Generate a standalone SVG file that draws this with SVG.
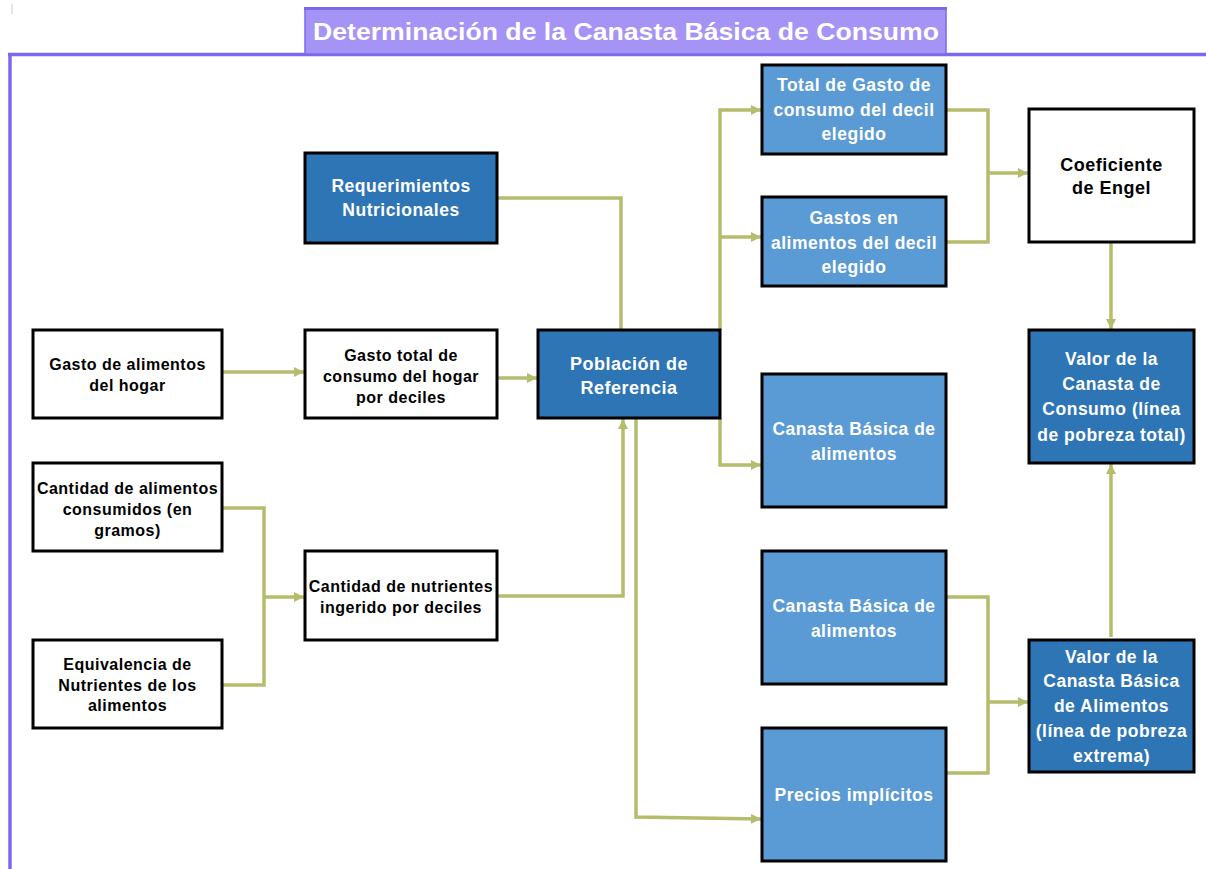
<svg xmlns="http://www.w3.org/2000/svg" width="1206" height="869" viewBox="0 0 1206 869">
<style>
.box{stroke:#000;stroke-width:3}
.dark{fill:#2E75B6}
.light{fill:#5B9BD5}
.white{fill:#FFFFFF}
text{font-family:"Liberation Sans",Arial,sans-serif;font-weight:bold;text-anchor:middle}
.tw{fill:#FFFFFF;font-size:17.5px;letter-spacing:0.5px}
.tb{fill:#000000;font-size:16px;letter-spacing:0.5px}
.tb18{fill:#000000;font-size:18px;letter-spacing:0.5px}
.conn{fill:none;stroke:#B5BD6C;stroke-width:3.5}
</style>
<defs>
<marker id="arr" markerUnits="userSpaceOnUse" markerWidth="11" markerHeight="11" refX="10" refY="5" orient="auto">
<path d="M0,0 L10,5 L0,10 z" fill="#B5BD6C"/>
</marker>
</defs>
<rect x="0" y="0" width="1206" height="869" fill="#FFFFFF"/>
<line x1="12" y1="4" x2="12" y2="14" stroke="#CCCCCC" stroke-width="1"/>

<g id="frame">
<line x1="8" y1="54.5" x2="1206" y2="54.5" stroke="#7B68EE" stroke-width="3.5"/>
<line x1="10" y1="54" x2="10" y2="869" stroke="#7B68EE" stroke-width="3.5"/>
</g>
<g id="title">
<rect x="305" y="9" width="641" height="45" fill="#A594F5" stroke="#7B68EE" stroke-width="1.5"/>
<line x1="304" y1="8.5" x2="947" y2="8.5" stroke="#7B68EE" stroke-width="3"/>
<text x="626" y="40" fill="#FFFFFF" style="font-size:24px" textLength="626" lengthAdjust="spacingAndGlyphs">Determinación de la Canasta Básica de Consumo</text>
</g>

<g id="connectors">
<path class="conn" d="M222,372 H304" marker-end="url(#arr)"/>
<path class="conn" d="M497,378 H537" marker-end="url(#arr)"/>
<path class="conn" d="M222,508 H264 V685 H222"/>
<path class="conn" d="M264,597 H304" marker-end="url(#arr)"/>
<path class="conn" d="M497,596 H623 V419" marker-end="url(#arr)"/>
<path class="conn" d="M497,198 H621 V330"/>
<path class="conn" d="M720,330 V110 H761" marker-end="url(#arr)"/>
<path class="conn" d="M720,237 H761" marker-end="url(#arr)"/>
<path class="conn" d="M720,418 V465 H761" marker-end="url(#arr)"/>
<path class="conn" d="M636,418 V817 L761,819" marker-end="url(#arr)"/>
<path class="conn" d="M946,110 H988 V242 H946"/>
<path class="conn" d="M988,173 H1028" marker-end="url(#arr)"/>
<path class="conn" d="M1111,242 V329" marker-end="url(#arr)"/>
<path class="conn" d="M946,597 H988 V773 H946"/>
<path class="conn" d="M988,702 H1028" marker-end="url(#arr)"/>
<path class="conn" d="M1111,637 V464" marker-end="url(#arr)"/>
</g>

<g id="requerimientos">
<rect class="box dark" x="305" y="153" width="192" height="90"/>
<text class="tw" x="401" y="192">Requerimientos</text>
<text class="tw" x="401" y="216">Nutricionales</text>
</g>
<g id="gasto-alimentos-hogar">
<rect class="box white" x="33" y="330" width="189" height="88"/>
<text class="tb" x="127.5" y="369.5">Gasto de alimentos</text>
<text class="tb" x="127.5" y="390.5">del hogar</text>
</g>
<g id="gasto-total-consumo">
<rect class="box white" x="305" y="330" width="192" height="88"/>
<text class="tb" x="401" y="360.5">Gasto total de</text>
<text class="tb" x="401" y="381.5">consumo del hogar</text>
<text class="tb" x="401" y="402.5">por deciles</text>
</g>
<g id="cantidad-alimentos">
<rect class="box white" x="33" y="463" width="189" height="88"/>
<text class="tb" x="127.5" y="493.5">Cantidad de alimentos</text>
<text class="tb" x="127.5" y="514.5">consumidos (en</text>
<text class="tb" x="127.5" y="535.5">gramos)</text>
</g>
<g id="equivalencia">
<rect class="box white" x="33" y="640" width="189" height="88"/>
<text class="tb" x="127.5" y="669.5">Equivalencia de</text>
<text class="tb" x="127.5" y="690.5">Nutrientes de los</text>
<text class="tb" x="127.5" y="710.5">alimentos</text>
</g>
<g id="cantidad-nutrientes">
<rect class="box white" x="305" y="551" width="192" height="89"/>
<text class="tb" x="401" y="591.5">Cantidad de nutrientes</text>
<text class="tb" x="401" y="612.5">ingerido por deciles</text>
</g>
<g id="poblacion">
<rect class="box dark" x="538" y="330" width="182" height="88"/>
<text class="tw" x="629" y="369.5" style="font-size:18px">Población de</text>
<text class="tw" x="629" y="393.5" style="font-size:18px">Referencia</text>
</g>
<g id="total-gasto-decil">
<rect class="box light" x="762" y="65" width="184" height="89"/>
<text class="tw" x="854" y="91">Total de Gasto de</text>
<text class="tw" x="854" y="115.5">consumo del decil</text>
<text class="tw" x="854" y="140">elegido</text>
</g>
<g id="gastos-alimentos-decil">
<rect class="box light" x="762" y="197" width="184" height="89"/>
<text class="tw" x="854" y="224">Gastos en</text>
<text class="tw" x="854" y="248.5">alimentos del decil</text>
<text class="tw" x="854" y="273">elegido</text>
</g>
<g id="canasta-basica-1">
<rect class="box light" x="762" y="374" width="184" height="133"/>
<text class="tw" x="854" y="435">Canasta Básica de</text>
<text class="tw" x="854" y="459.5">alimentos</text>
</g>
<g id="canasta-basica-2">
<rect class="box light" x="762" y="551" width="184" height="133"/>
<text class="tw" x="854" y="612">Canasta Básica de</text>
<text class="tw" x="854" y="636.5">alimentos</text>
</g>
<g id="precios-implicitos">
<rect class="box light" x="762" y="728" width="184" height="133"/>
<text class="tw" x="854" y="801">Precios implícitos</text>
</g>
<g id="coeficiente-engel">
<rect class="box white" x="1029" y="109" width="165" height="133"/>
<text class="tb18" x="1111.5" y="170.5">Coeficiente</text>
<text class="tb18" x="1111.5" y="193.5">de Engel</text>
</g>
<g id="valor-canasta-consumo">
<rect class="box dark" x="1029" y="330" width="165" height="133"/>
<text class="tw" x="1111.5" y="364.5">Valor de la</text>
<text class="tw" x="1111.5" y="389.5">Canasta de</text>
<text class="tw" x="1111.5" y="414.5">Consumo (línea</text>
<text class="tw" x="1111.5" y="440.5">de pobreza total)</text>
</g>
<g id="valor-canasta-alimentos">
<rect class="box dark" x="1029" y="640" width="165" height="132"/>
<text class="tw" x="1111.5" y="663">Valor de la</text>
<text class="tw" x="1111.5" y="687">Canasta Básica</text>
<text class="tw" x="1111.5" y="712">de Alimentos</text>
<text class="tw" x="1111.5" y="737">(línea de pobreza</text>
<text class="tw" x="1111.5" y="762">extrema)</text>
</g>
</svg>
